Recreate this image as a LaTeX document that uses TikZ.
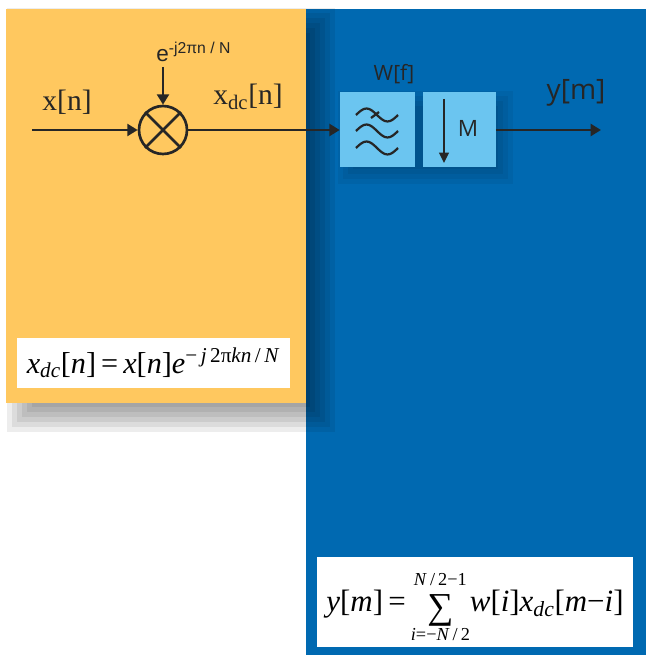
\documentclass[tikz,border=0pt]{standalone}
\usepackage{fontspec}
\setmainfont{Liberation Serif}
\newfontfamily\arialfont{Liberation Sans}
\newfontfamily\segoefont{Open Sans}
\usetikzlibrary{positioning,arrows.meta}
\definecolor{cOrange}{HTML}{FFC85F}
\definecolor{cBlue}{HTML}{0069B1}
\definecolor{cLight}{HTML}{6BC5F0}
\definecolor{cInk}{HTML}{262626}
\newcommand{\mi}[1]{\textit{#1}}
\tikzset{
  drop-shade/.style={fill=black,opacity=0.07},
  node-mixer/.style={draw=cInk,line width=1.9pt,circle,minimum size=12mm,inner sep=0pt},
  node-filter/.style={fill=cLight,minimum width=18.75mm,minimum height=18.75mm,inner sep=0pt},
  eq-box/.style={fill=white,inner sep=0pt},
  ink/.style={draw=cInk,line width=1.8pt},
  arrow/.style={-{Triangle[length=2.6mm,width=3mm]},line width=1.8pt,draw=cInk},
  arrow-thin/.style={-{Triangle[length=2.6mm,width=2.4mm]},line width=1.4pt,draw=cInk},
  wave/.style={draw=cInk,line width=1.6pt},
  lbl-serif/.style={text=cInk,font=\fontsize{21}{24}\selectfont,inner sep=0pt},
  lbl-arial/.style={text=cInk,font=\arialfont\fontsize{16}{18}\selectfont,inner sep=0pt},
  lbl-sans/.style={text=cInk,font=\segoefont\fontsize{15}{17}\selectfont,inner sep=0pt},
  lbl-sans-big/.style={text=cInk,font=\segoefont\fontsize{20}{22}\selectfont,inner sep=0pt},
}

\begin{document}
\begin{tikzpicture}[x=0.25mm,y=-0.25mm,node distance=1.75mm]
  \useasboundingbox (0,0) rectangle (646,655);
  % panels, with the stepped shadow of the orange one
  \fill[cBlue] (306,9) rectangle (646,655);
  \foreach \k in {0,...,5}
    \fill[drop-shade] ({7+5*\k},{8+5*\k}) rectangle ({335-5*\k},{432-5*\k});
  \fill[cOrange] (6,9) rectangle (306,403);

  % mixer
  \node[node-mixer] (mix) at (163,130) {};
  \draw[ink] (mix.north west) -- (mix.south east) (mix.north east) -- (mix.south west);
  \coordinate (xin) at (32,130);
  \coordinate (ein) at (163,67);
  \node[lbl-serif] (xlbl) at (67,102) {x[n]};
  \node[lbl-arial,anchor=base west] (elbl) at (156,62) {e\textsuperscript{-j2πn / N}};
  \node[lbl-serif] (xdclbl) at (248,97) {x\textsubscript{dc}[n]};
  \draw[arrow] (xin) -- (mix);
  \draw[arrow] (ein) -- (mix);

  % filter and decimator
  \foreach \k in {0,...,3}
    \fill[drop-shade,opacity=0.05] ({338+5*\k},{91+5*\k}) rectangle ({513-5*\k},{184-5*\k});
  \node[node-filter] (filt) at (377.5,130) {};
  \node[node-filter,minimum width=18.25mm,right=of filt] (dec) {};
  \foreach \wy in {115,131,148}
    \draw[wave] (356,\wy) sin (366.5,\wy-6.5) cos (377,\wy) sin (387.5,\wy+6.5) cos (398,\wy);
  \coordinate (tick-a) at (371,118);
  \coordinate (tick-b) at (379,112);
  \draw[wave] (tick-a) -- (tick-b);
  \node[lbl-sans] (wlbl) at (394,74) {W[f]};
  \coordinate (dtop) at (444,99);
  \coordinate (dbot) at (444,163);
  \draw[arrow-thin] (dtop) -- (dbot);
  \node[lbl-sans,font=\segoefont\fontsize{16}{18}\selectfont] (mlbl) at (468,128) {M};
  \coordinate (yout) at (601,130);
  \node[lbl-sans-big] (ylbl) at (576,93) {y[m]};
  \draw[arrow] (mix) -- (filt);
  \draw[arrow] (dec) -- (yout);

  % equations
  \node[eq-box,minimum width=68.25mm,minimum height=12.5mm,
    font=\fontsize{21.5}{25}\selectfont] (eqdc) at (153.5,363)
    {\mi{x}\textsubscript{\mi{dc}}[\mi{n}]\,=\,\mi{x}[\mi{n}]\mi{e}\textsuperscript{−\,\mi{j}\,2π\mi{kn}\,/\,\mi{N}}};
  \node[eq-box,minimum width=79mm,minimum height=22.5mm,
    font=\fontsize{22}{26}\selectfont] (eqy) at (475,602)
    {\mi{y}[\mi{m}]\,=\,$\mathop{\raisebox{-0.22em}{\fontsize{26}{26}\selectfont ∑}}\limits^{\hbox{\fontsize{13}{13}\selectfont\mi{N}\,/\,2−1}\vphantom{\big|}}_{\hbox{\fontsize{13}{13}\selectfont\mi{i}=−\mi{N}\,/\,2}}$\mi{w}[\mi{i}]\mi{x}\textsubscript{\mi{dc}}[\mi{m}−\mi{i}]};
\end{tikzpicture}
\end{document}
